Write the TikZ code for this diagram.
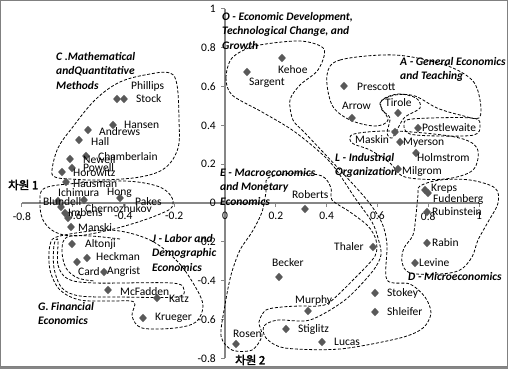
\documentclass[tikz,border=0pt]{standalone}
\usepackage{fontspec}
\setmainfont{Carlito}
\newfontfamily\krfont[AutoFakeBold=2.5]{Noto Sans CJK KR}
\usetikzlibrary{shapes.geometric}
\definecolor{ptc}{RGB}{89,89,89}
\definecolor{axc}{RGB}{134,134,134}
\begin{document}
\begin{tikzpicture}[x=1pt,y=-1pt,
  pt/.style={diamond, fill=ptc, inner sep=0, minimum width=8pt, minimum height=8.5pt},
  lab/.style={font=\fontsize{11.5}{13}\selectfont, inner sep=0, anchor=west},
  grp/.style={font=\fontsize{11.5}{14.5}\selectfont\bfseries\itshape, align=left, inner sep=0, anchor=north west},
  tk/.style={font=\fontsize{11.5}{13}\selectfont, inner sep=0},
  krl/.style={font=\krfont\bfseries\fontsize{11.5}{13}\selectfont, inner sep=0, anchor=west},
  cv/.style={draw=black, line width=0.8pt, dash pattern=on 3pt off 1.8pt},
  ax/.style={draw=axc, line width=1.3pt}]
\useasboundingbox (0,0) rectangle (508,369);
\fill[white] (0,0) rectangle (508,369);
\draw[gray, line width=1pt] (0.5,0.5) rectangle (507.5,366.5);
\draw[axc, line width=2.5pt] (0,367.8) -- (508,367.8);

% axes
\draw[ax] (21.8,203) -- (479,203);
\draw[ax] (225,9) -- (225,358.2);
\foreach \v/\t in {-0.8/-0.8,-0.6/-0.6,-0.4/-0.4,-0.2/-0.2,0/0,0.2/0.2,0.4/0.4,0.6/0.6,0.8/0.8,1/1}{
  \draw[ax, line width=1pt] ({225+254*\v},203) -- ({225+254*\v},207);
  \node[tk, anchor=north] (xt\t) at ({225+254*\v},212) {\t};
  \draw[ax, line width=1pt] (225,{203-194*\v}) -- (221,{203-194*\v});
  \node[tk, anchor=east] (yt\t) at (216,{203-194*\v}) {\t};
}
\node[krl] (dim1) at (8,185) {차원 1};
\node[krl] (dim2) at (235,360) {차원 2};

% dashed group outlines
% C
\draw[cv] plot[smooth cycle, tension=0.6] coordinates {(52,170) (58,148) (72,128) (95,100) (120,82) (150,74) (170,73) (177,85) (179,120) (178,148) (165,168) (140,177) (100,180) (70,179) (55,177)};
% F (Ichimura)
\draw[cv] plot[smooth cycle, tension=0.6] coordinates {(45,188) (80,183) (125,181) (157,186) (171,196) (172,207) (160,214) (135,223) (105,231) (75,236) (55,232) (43,220) (40,202)};
% J outer
\draw[cv] plot[smooth cycle, tension=0.55] coordinates {(50,245) (60,236) (110,230) (150,240) (178,262) (196,288) (203,306) (196,322) (175,328) (142,328) (132,316) (134,302) (110,301) (80,300) (60,290) (50,270)};
% McFadden loop
\draw[cv] plot[smooth cycle, tension=0.55] coordinates {(58,240) (58,265) (68,279) (95,283) (172,283) (184,290) (176,297) (120,297) (80,296) (62,288) (54,268) (54,245)};
% Altonji inner line
\draw[cv] plot[smooth, tension=0.6] coordinates {(120,239) (90,236) (67,237) (62,250) (66,268) (78,278) (95,281)};
% O band
\draw[cv] plot[smooth cycle, tension=0.5] coordinates {(232,95) (226,78) (232,58) (255,46) (300,41) (324,49) (318,70) (300,85) (290,100) (293,120) (305,133) (338,168) (367,200) (382,223) (387,245) (387,280) (410,284) (425,297) (431,313) (423,328) (400,338) (340,349) (285,348) (266,338) (264,326) (278,320) (310,320) (345,300) (372,272) (381,255) (378,238) (372,222) (355,198) (330,162) (295,132) (262,112)};
% E
\draw[cv] plot[smooth cycle, tension=0.5] coordinates {(268,178) (295,173) (322,176) (331,188) (332,200) (350,212) (368,226) (376,240) (375,256) (355,278) (330,302) (318,306) (300,306) (282,307) (266,310) (259,322) (262,336) (252,350) (232,350) (221,336) (225,305) (231,275) (240,250) (252,232) (262,212) (266,192)};
% A
\draw[cv] plot[smooth cycle, tension=0.55] coordinates {(327,75) (340,60) (395,55) (445,65) (472,80) (480,100) (479,118) (460,115) (437,108) (415,96) (395,95) (380,103) (388,120) (375,126) (350,120) (332,105)};
% Tirole
\draw[cv] plot[smooth cycle, tension=0.55] coordinates {(382,100) (398,94) (416,98) (420,108) (405,117) (398,128) (392,138) (387,133) (390,118) (382,110)};
% Postlewaite
\draw[cv] plot[smooth cycle, tension=0.55] coordinates {(404,125) (412,119) (472,118) (480,126) (474,135) (440,136) (410,134)};
% L
\draw[cv] plot[smooth cycle, tension=0.55] coordinates {(354,134) (395,131) (455,137) (477,148) (473,170) (445,179) (405,177) (390,163) (370,150) (352,143)};
% D
\draw[cv] plot[smooth cycle, tension=0.55] coordinates {(420,186) (440,180) (470,180) (495,188) (498,203) (488,222) (478,240) (472,257) (460,270) (440,274) (410,273) (402,262) (404,248) (413,235) (416,215) (418,195)};

% group labels
\node[grp] (gC) at (56,52) {C .Mathematical\\andQuantitative\\Methods};
\node[grp] (gO) at (222,12) {O - Economic Development,\\Technological Change, and\\Growth};
\node[grp] (gA) at (400,57) {A - General Economics\\and Teaching};
\node[grp] (gL) at (335,153) {L - Industrial\\Organization};
\node[grp] (gE) at (220,168) {E - Macroeconomics\\and Monetary\\Economics};
\node[grp] (gD) at (408,272) {D - Microeconomics};
\node[grp] (gJ) at (152,234) {J - Labor and\\Demographic\\Economics};
\node[grp] (gG) at (38,302) {G. Financial\\Economics};

% points left
\node[pt] (pPhillips) at (117,99) {};
\node[pt] (pStock) at (124,99) {};
\node[pt] (pHansen) at (113,125) {};
\node[pt] (pAndrews) at (88,130) {};
\node[pt] (pHall) at (79,140) {};
\node[pt] (pNewell) at (70,159) {};
\node[pt] (pChamberlain) at (86,156) {};
\node[pt] (pPowell) at (72,168) {};
\node[pt] (pHorowitz) at (62,172) {};
\node[pt] (pHausman) at (66,182) {};
\node[pt] (pIchimura) at (84,200) {};
\node[pt] (pBlundell) at (58,201) {};
\node[pt] (pImbens) at (61,207) {};
\node[pt] (pCherno) at (65,213) {};
\node[pt] (pX) at (68,218) {};
\node[pt] (pHong) at (120,198) {};
\node[pt] (pManski) at (71,227) {};
\node[pt] (pAltonji) at (72,244) {};
\node[pt] (pHeckman) at (87,258) {};
\node[pt] (pCard) at (77,262) {};
\node[pt] (pAngrist) at (104,272) {};
\node[pt] (pMcFadden) at (108,290) {};
\node[pt] (pKatz) at (157,298) {};
\node[pt] (pKrueger) at (143,318) {};

\node[lab] (lPhillips) at (131,86) {Phillips};
\node[lab] (lStock) at (136,99) {Stock};
\node[lab] (lHansen) at (124,125) {Hansen};
\node[lab] (lAndrews) at (99,132) {Andrews};
\node[lab] (lHall) at (91,142) {Hall};
\node[lab] (lNewell) at (83,160) {Newell};
\node[lab] (lChamberlain) at (98,157) {Chamberlain};
\node[lab] (lPowell) at (83,168) {Powell};
\node[lab] (lHorowitz) at (73,173) {Horowitz};
\node[lab] (lHausman) at (73,184) {Hausman};
\node[lab] (lIchimura) at (58,193) {Ichimura};
\node[lab] (lHong) at (107,193) {Hong};
\node[lab] (lBlundell) at (43,202) {Blundell};
\node[lab] (lPakes) at (135,202) {Pakes};
\node[lab] (lImbens) at (68,213) {Imbens};
\node[lab] (lCherno) at (85,209) {Chernozhukov};
\node[lab] (lManski) at (78,228) {Manski};
\node[lab] (lAltonji) at (85,244) {Altonji};
\node[lab] (lHeckman) at (96,257) {Heckman};
\node[lab] (lCard) at (78,272) {Card};
\node[lab] (lAngrist) at (107,272) {Angrist};
\node[lab] (lMcFadden) at (120,292) {McFadden};
\node[lab] (lKatz) at (169,299) {Katz};
\node[lab] (lKrueger) at (155,318) {Krueger};

% points right
\node[pt] (pKehoe) at (282,58) {};
\node[pt] (pSargent) at (247,72) {};
\node[pt] (pPrescott) at (344,86) {};
\node[pt] (pArrow) at (352,118) {};
\node[pt] (pTirole) at (398,113) {};
\node[pt] (pPostlewaite) at (418,128) {};
\node[pt] (pMaskin) at (395,132) {};
\node[pt] (pMyerson) at (400,142) {};
\node[pt] (pHolmstrom) at (416,153) {};
\node[pt] (pMilgrom) at (398,169) {};
\node[pt] (pKreps) at (425,190) {};
\node[pt] (pFudenberg) at (428,193) {};
\node[pt] (pRubinstein) at (427,212) {};
\node[pt] (pRabin) at (427,243) {};
\node[pt] (pLevine) at (415,263) {};
\node[pt] (pStokey) at (375,293) {};
\node[pt] (pShleifer) at (375,312) {};
\node[pt] (pThaler) at (373,247) {};
\node[pt] (pRoberts) at (305,209) {};
\node[pt] (pBecker) at (279,277) {};
\node[pt] (pMurphy) at (308,311) {};
\node[pt] (pStiglitz) at (286,329) {};
\node[pt] (pLucas) at (322,342) {};
\node[pt] (pRosen) at (236,344) {};

\node[lab] (lKehoe) at (278,70) {Kehoe};
\node[lab] (lSargent) at (249,83) {Sargent};
\node[lab] (lPrescott) at (357,87) {Prescott};
\node[lab] (lArrow) at (342,106) {Arrow};
\node[lab] (lTirole) at (385,103) {Tirole};
\node[lab] (lPostlewaite) at (422,128) {Postlewaite};
\node[lab] (lMaskin) at (355,140) {Maskin};
\node[lab] (lMyerson) at (403,143) {Myerson};
\node[lab] (lHolmstrom) at (417,158) {Holmstrom};
\node[lab] (lMilgrom) at (402,171) {Milgrom};
\node[lab] (lKreps) at (431,189) {Kreps};
\node[lab] (lFudenberg) at (433,199) {Fudenberg};
\node[lab] (lRubinstein) at (432,212) {Rubinstein};
\node[lab] (lRabin) at (432,243) {Rabin};
\node[lab] (lLevine) at (419,263) {Levine};
\node[lab] (lStokey) at (387,293) {Stokey};
\node[lab] (lShleifer) at (387,312) {Shleifer};
\node[lab] (lThaler) at (334,247) {Thaler};
\node[lab] (lRoberts) at (292,195) {Roberts};
\node[lab] (lBecker) at (272,263) {Becker};
\node[lab] (lMurphy) at (295,300) {Murphy};
\node[lab] (lStiglitz) at (298,329) {Stiglitz};
\node[lab] (lLucas) at (334,342) {Lucas};
\node[lab] (lRosen) at (233,334) {Rosen};
\end{tikzpicture}
\end{document}
